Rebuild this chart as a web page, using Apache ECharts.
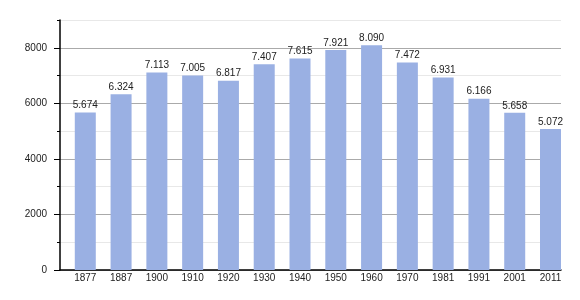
<!DOCTYPE html>
<html>
<head>
<meta charset="utf-8">
<script src="https://cdn.jsdelivr.net/npm/echarts@6/dist/echarts.min.js"></script>
<style>
html,body{margin:0;padding:0;background:#fff;}
#chart{width:580px;height:300px;}
</style>
</head>
<body>
<div id="chart"></div>
<script>
const years = ['1877','1887','1900','1910','1920','1930','1940','1950','1960','1970','1981','1991','2001','2011'];
const population = [5674, 6324, 7113, 7005, 6817, 7407, 7615, 7921, 8090, 7472, 6931, 6166, 5658, 5072];
const yTickLabels = [0, 2000, 4000, 6000, 8000];

const fmt = v => String(v).replace(/\B(?=(\d{3})+(?!\d))/g, '.');
const font = 'Liberation Sans, Arial, sans-serif';

const chart = echarts.init(document.getElementById('chart'), null, {renderer: 'canvas'});
chart.setOption({
  animation: false,
  backgroundColor: '#ffffff',
  grid: {left: 60, right: 19, top: 20, bottom: 30, containLabel: false},
  xAxis: {
    type: 'category',
    data: years,
    boundaryGap: true,
    axisLine: {show: true, lineStyle: {color: '#000', width: 1.5}},
    axisTick: {show: false},
    axisLabel: {
      color: '#222', fontSize: 10, fontFamily: font, margin: 3,
      padding: [0, 0, 0, 14.8], interval: 0
    },
    splitLine: {show: false}
  },
  yAxis: [
    {
      type: 'value', min: 0, max: 9000, interval: 1000,
      axisLine: {show: true, lineStyle: {color: '#000', width: 1.5}},
      axisTick: {show: true, length: 3, lineStyle: {color: '#000'}},
      axisLabel: {
        color: '#222', fontSize: 10, fontFamily: font, margin: 13,
        customValues: yTickLabels,
        formatter: v => String(v)
      },
      splitLine: {show: true, lineStyle: {color: ['#aaaaaa', '#e8e8e8'], width: 1}}
    },
    {
      type: 'value', min: 0, max: 9000, interval: 1000, position: 'left',
      axisLine: {show: false},
      axisTick: {show: true, length: 6, lineStyle: {color: '#000'}, customValues: yTickLabels},
      axisLabel: {show: false},
      splitLine: {show: false}
    }
  ],
  series: [
    {
      type: 'bar', data: years.map(() => null), barWidth: 14.8, barGap: '0%',
      itemStyle: {color: 'rgba(0,0,0,0)'}, silent: true
    },
    {
      type: 'bar', data: population, barWidth: 21, barGap: '0%',
      itemStyle: {color: '#9ab0e3'},
      label: {
        show: true, position: 'top', distance: 2,
        color: '#222', fontSize: 10, fontFamily: font,
        formatter: p => fmt(p.value)
      }
    }
  ]
});
</script>
</body>
</html>
